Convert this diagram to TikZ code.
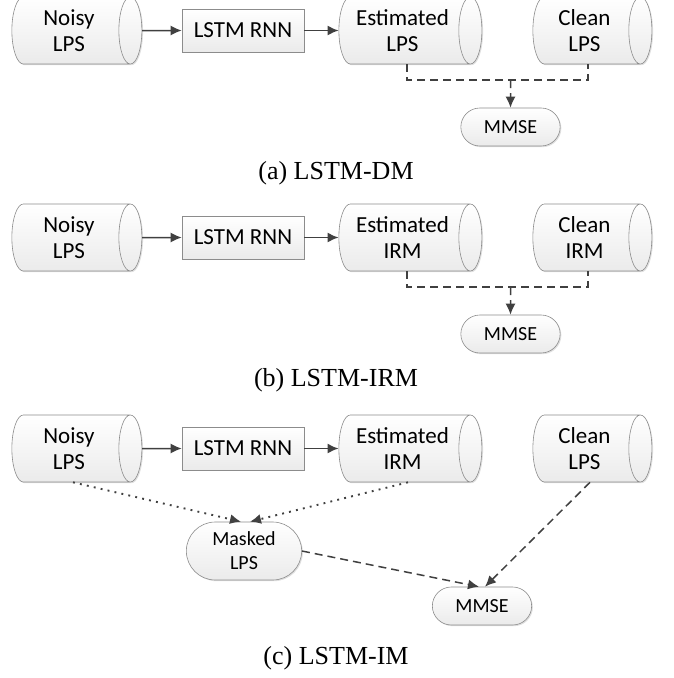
\documentclass[tikz,border=0pt]{standalone}
\usepackage{fontspec}
\setmainfont{Liberation Serif}
\newfontfamily\calibfont{Carlito}
\usetikzlibrary{shapes.geometric,shapes.misc,arrows.meta,shadows}

\definecolor{edgegray}{HTML}{8C8C8C}
\definecolor{linegray}{HTML}{404040}
\tikzstyle{boxfill}=[draw=edgegray, line width=0.6pt, top color=white, bottom color=gray!16, drop shadow={shadow xshift=1.2pt, shadow yshift=-1.2pt, opacity=0.25}]
\tikzstyle{store}=[boxfill, cylinder, shape border rotate=0, aspect=0.5, minimum width=67pt, minimum height=130pt, inner sep=2pt, align=center, font=\calibfont\fontsize{23}{26}\selectfont]
\tikzstyle{net}=[boxfill, rectangle, minimum width=122pt, minimum height=43pt, font=\calibfont\fontsize{23}{26}\selectfont]
\tikzstyle{term}=[boxfill, rounded rectangle, minimum width=106pt, minimum height=38pt, align=center, font=\calibfont\fontsize{20}{24}\selectfont]
\tikzstyle{subcap}=[font=\fontsize{26}{30}\selectfont]
\tikzstyle{flow}=[draw=linegray, line width=1.5pt, -{Latex[length=11pt,width=10pt]}]
\tikzstyle{pair}=[draw=linegray, line width=1.5pt, dash pattern=on 8pt off 5pt]
\tikzstyle{mask}=[flow, line width=1.9pt, dash pattern=on 1.9pt off 5.2pt]

\begin{document}
\begin{tikzpicture}[x=1pt,y=-1pt]
  \useasboundingbox (0,0) rectangle (673,678);

  % (a) LSTM-DM
  \node[store] (noisyA) at (69,30.5) {Noisy\\LPS};
  \node[net] (rnnA) at (243,30.5) {LSTM RNN};
  \node[store, minimum height=143pt] (estA) at (402.5,30.5) {Estimated\\LPS};
  \node[store, minimum height=119pt] (cleanA) at (584.5,30.5) {Clean\\LPS};
  \node[term] (mmseA) at (510.5,127) {MMSE};
  \coordinate (jA) at (510.5,80);
  \node[subcap] (capA) at (336,173) {(a) LSTM-DM};
  \draw[flow] (noisyA) -- (rnnA);
  \draw[flow] (rnnA) -- (estA);
  \draw[pair] ([xshift=4.5pt]estA.south) |- (jA) -| ([xshift=3.5pt]cleanA.south);
  \draw[flow, pair] (jA) -- (mmseA);

  % (b) LSTM-IRM
  \node[store] (noisyB) at (69,237.5) {Noisy\\LPS};
  \node[net] (rnnB) at (243,237.5) {LSTM RNN};
  \node[store, minimum height=143pt] (estB) at (402.5,237.5) {Estimated\\IRM};
  \node[store, minimum height=119pt] (cleanB) at (584.5,237.5) {Clean\\IRM};
  \node[term] (mmseB) at (510.5,334) {MMSE};
  \coordinate (jB) at (510.5,287);
  \node[subcap] (capB) at (336,380) {(b) LSTM-IRM};
  \draw[flow] (noisyB) -- (rnnB);
  \draw[flow] (rnnB) -- (estB);
  \draw[pair] ([xshift=4.5pt]estB.south) |- (jB) -| ([xshift=3.5pt]cleanB.south);
  \draw[flow, pair] (jB) -- (mmseB);

  % (c) LSTM-IM
  \node[store] (noisyC) at (69,448.5) {Noisy\\LPS};
  \node[net] (rnnC) at (243,448.5) {LSTM RNN};
  \node[store, minimum height=143pt] (estC) at (402.5,448.5) {Estimated\\IRM};
  \node[store, minimum height=119pt] (cleanC) at (584.5,448.5) {Clean\\LPS};
  \node[term, minimum width=122pt, minimum height=58pt] (maskC) at (244,551) {Masked\\LPS};
  \node[term] (mmseC) at (482,606) {MMSE};
  \node[subcap] (capC) at (336,658) {(c) LSTM-IM};
  \draw[flow] (noisyC) -- (rnnC);
  \draw[flow] (rnnC) -- (estC);
  \draw[mask] ([xshift=4pt]noisyC.south) -- ([xshift=-3pt]maskC.north);
  \draw[mask] ([xshift=5.5pt]estC.south) -- ([xshift=6pt]maskC.north);
  \draw[flow, pair] (maskC.east) -- ([xshift=-3pt]mmseC.north);
  \draw[flow, pair] ([xshift=5.5pt]cleanC.south) -- ([xshift=3pt]mmseC.north);
\end{tikzpicture}
\end{document}
